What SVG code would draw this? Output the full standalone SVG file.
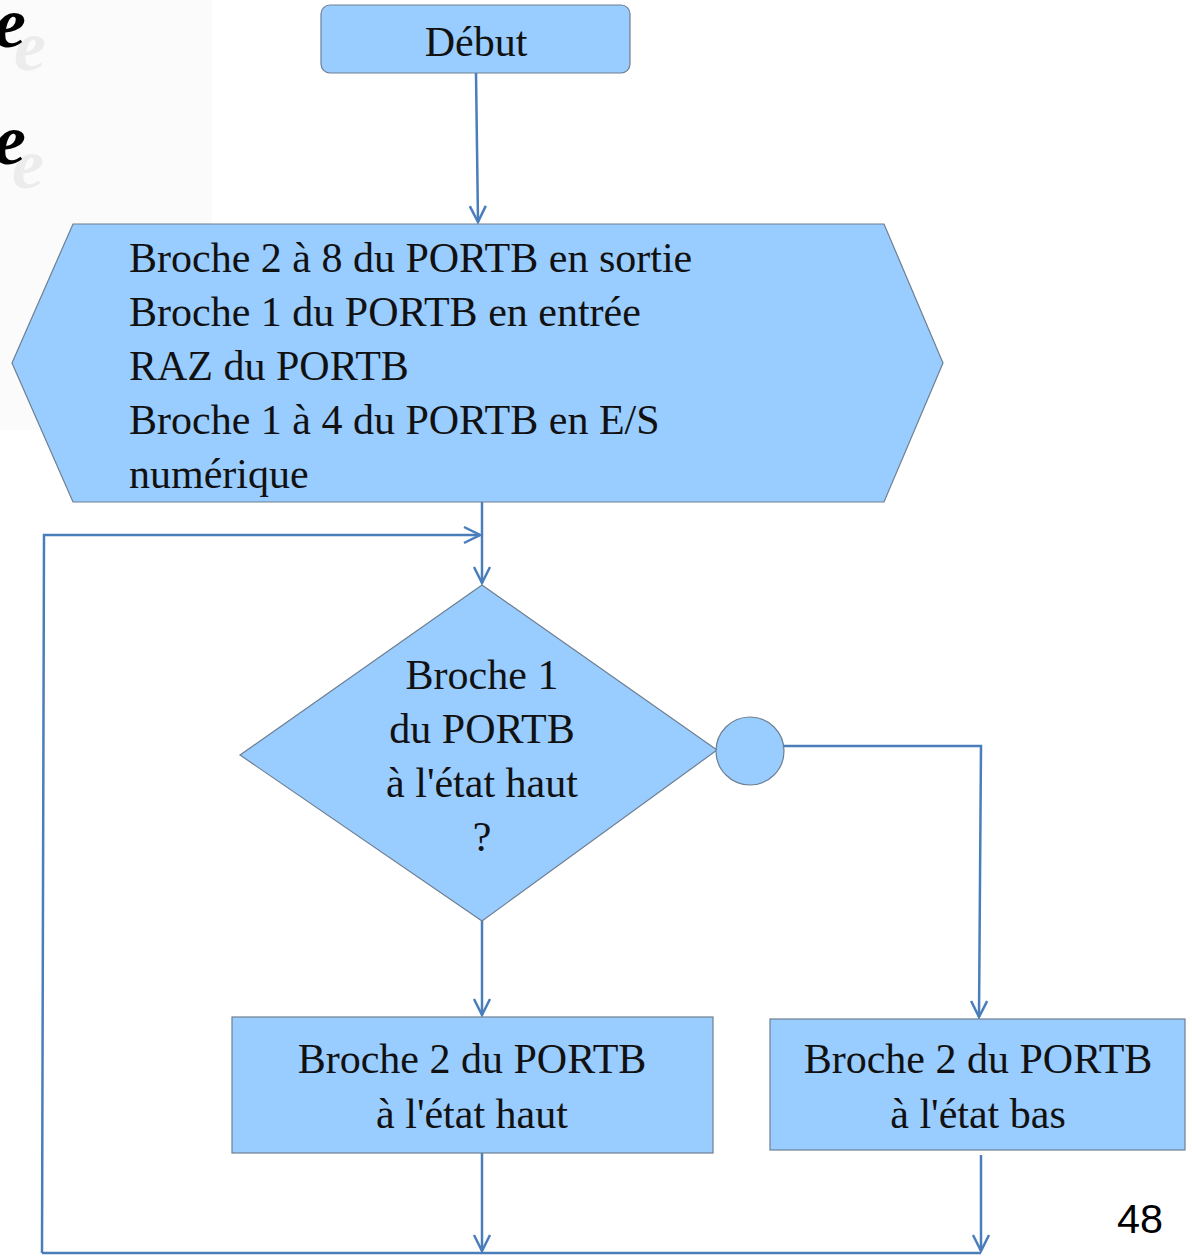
<svg xmlns="http://www.w3.org/2000/svg" width="1192" height="1256" viewBox="0 0 1192 1256">
<defs>
<style>
.node{fill:#99ccff;stroke:#6e7f91;stroke-width:1.2}
.t{font-family:"Palatino Linotype","Book Antiqua","Liberation Serif",serif;font-size:42px;fill:#111}
.c{fill:none;stroke:#4a7ebb;stroke-width:2.5}
</style>
<marker id="ah" viewBox="0 0 20 20" refX="18" refY="10" markerWidth="20" markerHeight="20" markerUnits="userSpaceOnUse" orient="auto">
<path d="M2,2 L18,10 L2,18" fill="none" stroke="#4a7ebb" stroke-width="2.5"/>
</marker>
</defs>
<rect width="1192" height="1256" fill="#fff"/>
<rect x="0" y="0" width="212" height="430" fill="#fbfbfb"/>
<g id="bg-text" font-family="Liberation Serif,serif" font-weight="bold" font-style="italic" font-size="72">
<text x="14" y="70" fill="#ececec">e</text>
<text x="-6" y="47" fill="#000">e</text>
<text x="12" y="188" fill="#ececec">e</text>
<text x="-6" y="164" fill="#000">e</text>
</g>
<g id="connectors">
<path class="c" d="M476,73 L478,222" marker-end="url(#ah)"/>
<path class="c" d="M482,502 L482,583" marker-end="url(#ah)"/>
<path class="c" d="M42,1253 L44,535 L480,535" marker-end="url(#ah)"/>
<path class="c" d="M482,921 L482,1015" marker-end="url(#ah)"/>
<path class="c" d="M784,746 L981,746 L979,1017" marker-end="url(#ah)"/>
<path class="c" d="M482,1153 L482,1251" marker-end="url(#ah)"/>
<path class="c" d="M981,1155 L981,1251" marker-end="url(#ah)"/>
<path class="c" d="M42,1253 L981,1253"/>
</g>
<g id="debut">
<rect class="node" x="321" y="5" width="309" height="68" rx="9"/>
<text class="t" x="476" y="56" text-anchor="middle">Début</text>
</g>
<g id="init">
<polygon class="node" points="73,224 884,224 943,363 884,502 73,502 12,363"/>
<text class="t" x="129" y="272">Broche 2 à 8 du PORTB en sortie</text>
<text class="t" x="129" y="326">Broche 1 du PORTB en entrée</text>
<text class="t" x="129" y="380">RAZ du PORTB</text>
<text class="t" x="129" y="434">Broche 1 à 4 du PORTB en E/S</text>
<text class="t" x="129" y="488">numérique</text>
</g>
<g id="decision">
<polygon class="node" points="482,585 717,750 482,921 240,755"/>
<text class="t" x="482" y="689" text-anchor="middle">Broche 1</text>
<text class="t" x="482" y="743" text-anchor="middle">du PORTB</text>
<text class="t" x="482" y="797" text-anchor="middle">à l'état haut</text>
<text class="t" x="482" y="851" text-anchor="middle">?</text>
</g>
<g id="no">
<circle class="node" cx="750" cy="751" r="34"/>
</g>
<g id="haut">
<rect class="node" x="232" y="1017" width="481" height="136"/>
<text class="t" x="472" y="1073" text-anchor="middle">Broche 2 du PORTB</text>
<text class="t" x="472" y="1128" text-anchor="middle">à l'état haut</text>
</g>
<g id="bas">
<rect class="node" x="770" y="1019" width="415" height="131"/>
<text class="t" x="978" y="1073" text-anchor="middle">Broche 2 du PORTB</text>
<text class="t" x="978" y="1128" text-anchor="middle">à l'état bas</text>
</g>
<text x="1117" y="1233" textLength="46" lengthAdjust="spacingAndGlyphs" font-family="Liberation Sans,Arial,sans-serif" font-size="40" fill="#000">48</text>
</svg>
